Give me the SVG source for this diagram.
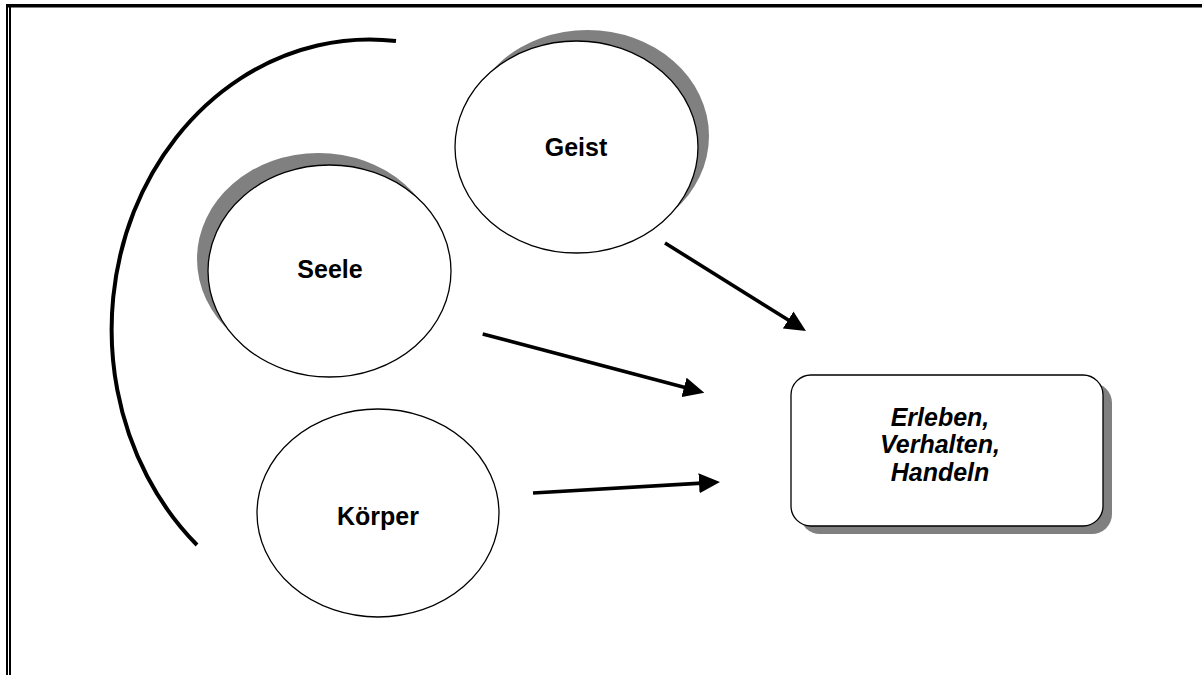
<svg xmlns="http://www.w3.org/2000/svg" width="1202" height="675" viewBox="0 0 1202 675">
  <style>
    .bg { fill: #ffffff; }
    .frame { fill: #000000; }
    .shadow { fill: #808080; stroke: none; }
    .shape { fill: #ffffff; stroke: #000000; stroke-width: 1.3; }
    .label { font-family: "Liberation Sans", Arial, sans-serif; font-size: 25px; font-weight: bold; fill: #000000; text-anchor: middle; }
    .italic { font-style: italic; }
    .arrow { stroke: #000000; stroke-width: 3.6; fill: none; marker-end: url(#head); }
    .bracket { stroke: #000000; stroke-width: 4; fill: none; }
  </style>
  <defs>
    <marker id="head" viewBox="0 0 21 20" refX="3" refY="10" markerWidth="21" markerHeight="20" markerUnits="userSpaceOnUse" orient="auto">
      <path d="M0,0 L21,10 L0,20 z" fill="#000000"/>
    </marker>
  </defs>

  <rect class="bg" x="0" y="0" width="1202" height="675"/>

  <!-- page frame: heavy top rule and doubled left rule -->
  <g id="frame">
    <rect class="frame" x="6" y="4" width="1196" height="3.5"/>
    <rect class="frame" x="6" y="4" width="2" height="671"/>
    <rect class="frame" x="9" y="7" width="2" height="668"/>
  </g>

  <!-- bracket embracing the three aspects -->
  <g id="bracket">
    <path class="bracket" d="M396,41 A258,290 0 0 0 197,545"/>
  </g>

  <g id="geist">
    <ellipse class="shadow" cx="587.5" cy="136" rx="121.5" ry="106"/>
    <ellipse class="shape" cx="576.5" cy="147" rx="121.5" ry="106"/>
    <text class="label" x="576" y="156">Geist</text>
  </g>

  <g id="seele">
    <ellipse class="shadow" cx="318.5" cy="259" rx="121.5" ry="106"/>
    <ellipse class="shape" cx="329.5" cy="271" rx="121.5" ry="106"/>
    <text class="label" x="330" y="278">Seele</text>
  </g>

  <g id="koerper">
    <ellipse class="shape" cx="378" cy="513" rx="121" ry="104"/>
    <text class="label" x="378" y="525">Körper</text>
  </g>

  <g id="ergebnis">
    <rect class="shadow" x="800" y="383" width="312" height="151" rx="20" ry="20"/>
    <rect class="shape" x="791" y="375" width="312" height="151" rx="20" ry="20"/>
    <text class="label italic" x="940" y="426">Erleben,</text>
    <text class="label italic" x="940" y="453">Verhalten,</text>
    <text class="label italic" x="940" y="481">Handeln</text>
  </g>

  <g id="connectors">
    <path class="arrow" d="M665,243 L790.7,321.5"/>
    <path class="arrow" d="M482.7,334 L686.9,388.1"/>
    <path class="arrow" d="M533,493 L702,483.1"/>
  </g>
</svg>
